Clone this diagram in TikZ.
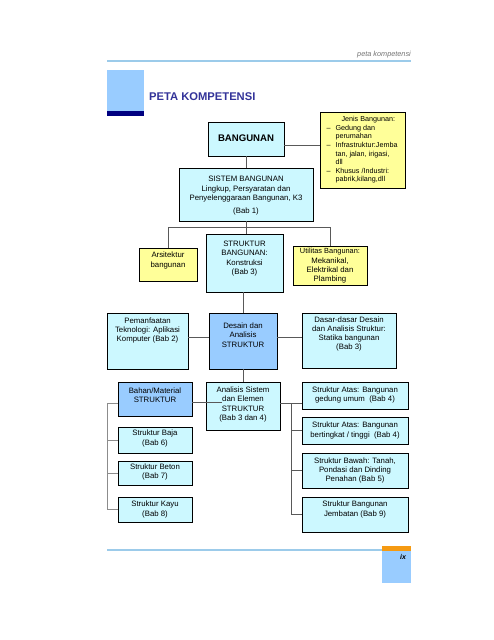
\documentclass[tikz,border=0pt]{standalone}
\usepackage{fontspec}
\setmainfont{Liberation Sans}
\definecolor{cy}{HTML}{CCF8FF}
\definecolor{ye}{HTML}{FFFF99}
\definecolor{bl}{HTML}{99CCFF}
\definecolor{hl}{HTML}{9CCBEA}
\definecolor{ti}{HTML}{333399}
\definecolor{nv}{HTML}{000080}
\definecolor{or}{HTML}{F59A12}
\tikzset{
  box/.style={draw=black,line width=0.75pt,inner sep=0pt,outer sep=0pt},
  txt/.style={align=center,inner sep=0pt,font=\fontsize{7.8}{9.3}\selectfont},
  conn/.style={draw=black!65,line width=0.8pt},
  brk/.style={draw=black!45,line width=0.7pt}
}
\newcommand\bx[8]{%
  \node[box,fill=#6,minimum width={#4-#2},minimum height={#5-#3}] (#1) at ({(#2+#4)/2},{(#3+#5)/2}) {};
  \node[txt] (#1t) at ({(#2+#4)/2},#7) {#8};}
\begin{document}
\begin{tikzpicture}[x=1pt,y=-1pt]
\useasboundingbox[fill=white] (0,0) rectangle (494,640);
% header
\draw[hl,line width=1.3pt] (107,61) -- (411,61);
\node[anchor=east,inner sep=0pt,font=\fontsize{7.3}{8}\selectfont\itshape,text=black!55] (hdr) at (411,55) {peta kompetensi};
\fill[bl] (107,70) rectangle (144,111);
\fill[nv] (107,111) rectangle (144,116);
\node[anchor=west,inner sep=0pt,font=\fontsize{11.2}{13}\selectfont\bfseries,text=ti] (title) at (149,97) {PETA KOMPETENSI};
% footer
\draw[hl,line width=1.3pt] (107,550) -- (382,550);
\fill[bl] (382,550) rectangle (411,583);
\fill[or] (382,546) rectangle (411,550.5);
\node[inner sep=0pt,font=\fontsize{7}{8}\selectfont\bfseries\itshape] (pg) at (403,556.5) {ix};
% boxes
\bx{bang}{208}{122}{284}{156}{cy}{138}{\fontsize{9.6}{11}\selectfont\bfseries BANGUNAN}
\bx{sis}{179}{168}{313}{221}{cy}{195.5}{SISTEM BANGUNAN\\[0.7pt]Lingkup, Persyaratan dan\\Penyelenggaraan Bangunan, K3\\[3.5pt](Bab 1)}
\node[box,fill=ye,minimum width=85,minimum height=76] (jenis) at (362.5,150) {};
\node[anchor=north west,inner sep=0pt,font=\fontsize{7.2}{8.6}\selectfont] (jenist) at (326.5,115.5) {%
\begin{tabular}{@{}l@{\hspace{4.8pt}}l@{}}
 & \hspace{6pt}Jenis Bangunan:\\
--& Gedung dan\\
 & perumahan\\
--& Infrastruktur:Jemba\\
 & tan, jalan, irigasi,\\
 & dll\\
--& Khusus /Industri:\\
 & pabrik,kilang,dll
\end{tabular}};
\bx{arsi}{139}{248}{197}{281}{ye}{260.5}{Arsitektur\\bangunan}
\bx{strb}{206}{234}{283}{292}{cy}{258.5}{STRUKTUR\\BANGUNAN:\\Konstruksi\\(Bab 3)}
\bx{util}{293}{246}{367}{285}{ye}{266}{\fontsize{7.4}{8.4}\selectfont Utilitas Bangunan:\\Mekanikal,\\Elektrikal dan\\Plambing}
\bx{pem}{107}{313}{188}{369}{cy}{330.5}{Pemanfaatan\\Teknologi: Aplikasi\\Komputer (Bab 2)}
\bx{des}{209}{313}{277}{369}{bl}{335}{Desain dan\\Analisis\\STRUKTUR}
\bx{dasar}{302}{313}{396}{368}{cy}{334}{\fontsize{7.8}{8.4}\selectfont Dasar-dasar Desain\\dan Analisis Struktur:\\Statika bangunan\\(Bab 3)}
\bx{bahan}{118}{382}{192}{416}{bl}{395}{Bahan/Material\\STRUKTUR}
\bx{ana}{206}{382}{280}{430}{cy}{404.5}{Analisis Sistem\\dan Elemen\\STRUKTUR\\(Bab 3 dan 4)}
\bx{atas1}{302}{382}{408}{409}{cy}{395}{Struktur Atas: Bangunan\\gedung umum\ \ (Bab 4)}
\bx{atas2}{302}{417}{408}{444}{cy}{430.5}{Struktur Atas: Bangunan\\bertingkat / tinggi\ \ (Bab 4)}
\bx{bawah}{302}{453}{408}{488}{cy}{470.5}{Struktur Bawah: Tanah,\\Pondasi dan Dinding\\Penahan (Bab 5)}
\bx{jemb}{302}{497}{408}{532}{cy}{509.5}{Struktur Bangunan\\Jembatan (Bab 9)}
\bx{baja}{118}{427}{192}{453}{cy}{438.5}{Struktur Baja\\(Bab 6)}
\bx{beton}{118}{461}{192}{485}{cy}{472}{Struktur Beton\\(Bab 7)}
\bx{kayu}{118}{497}{192}{522}{cy}{509.5}{Struktur Kayu\\(Bab 8)}
% connectors
\coordinate (j1) at (284,145);
\coordinate (hb) at (0,227);
\coordinate (r1) at (0,403);
\coordinate (bx1) at (291,0);
\coordinate (lx1) at (107,0);
\coordinate (bend) at (222,402);
\draw[conn] (bang.south) -- (sis.north);
\draw[conn] (j1) -- (j1 -| jenis.west);
\draw[conn] (sis.south) -- (sis.south |- strb.north);
\draw[conn] (arsi.north) -- (arsi.north |- hb) -- (util.north |- hb) -- (util.north);
\draw[conn] (strb.south -| 243,0) -- (des.north -| 243,0);
\draw[conn] (pem.east |- 0,337) -- (des.west |- 0,337);
\draw[conn] (des.east |- 0,337) -- (dasar.west |- 0,337);
\draw[conn] (des.south -| ana.north) -- (ana.north);
\draw[conn] (bahan.east |- bend) -- (bend);
\draw[conn] (ana.east |- r1) -- (atas1.west |- r1);
\draw[conn] (bx1 |- r1) -- (bx1 |- jemb.west) -- (jemb.west);
\draw[conn] (bx1 |- atas2.west) -- (atas2.west);
\draw[conn] (bx1 |- bawah.west) -- (bawah.west);
\draw[brk] (bahan.west |- r1) -- (lx1 |- r1) -- (lx1 |- kayu.west) -- (kayu.west);
\draw[brk] (lx1 |- baja.west) -- (baja.west);
\draw[brk] (lx1 |- beton.west) -- (beton.west);
\end{tikzpicture}
\end{document}
